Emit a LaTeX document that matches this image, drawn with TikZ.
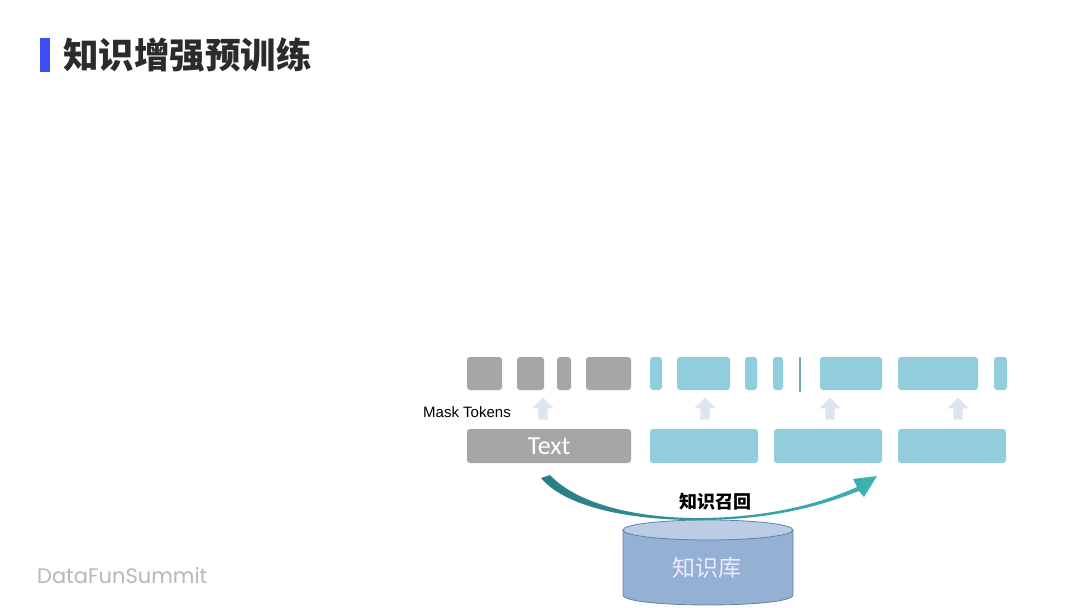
\documentclass[tikz,border=0pt]{standalone}
\usepackage{fontspec}
\setmainfont{Liberation Sans}
\newfontfamily\cjk{Noto Sans CJK SC}
\newfontfamily\carl{Carlito}
\newfontfamily\popp{Poppins}
\usetikzlibrary{shapes.arrows}
\definecolor{tokgray}{HTML}{A6A6A6}
\definecolor{tokblue}{HTML}{93CDDC}
\definecolor{upcol}{HTML}{DFE4F2}
\definecolor{titlecol}{HTML}{2B2B2B}
\definecolor{barblue}{HTML}{3D4EF5}
\definecolor{cylbody}{HTML}{94B0D3}
\definecolor{cyltop}{HTML}{BACDE4}
\definecolor{cyledge}{HTML}{5F80AE}
\definecolor{tealA}{HTML}{2A7C84}
\definecolor{tealB}{HTML}{3DB3B3}
\begin{document}
\begin{tikzpicture}[x=1pt,y=-1pt,
  tok/.style={rounded corners=3pt, inner sep=0pt, minimum height=33pt},
  gtok/.style={tok, fill=tokgray},
  btok/.style={tok, fill=tokblue},
  upar/.style={single arrow, shape border rotate=90, fill=upcol, inner sep=4.5pt,
    minimum width=21pt, minimum height=22pt, single arrow head extend=6pt},
  lab/.style={inner sep=0pt}
]
\useasboundingbox (0,0) rectangle (1080,608);
\fill[white] (0,0) rectangle (1080,608);

% title
\fill[barblue] (40,38) rectangle (50,72);
\node[lab, anchor=west, text=titlecol, font=\cjk\bfseries\fontsize{35.5}{37}\selectfont] (title) at (63,55) {知识增强预训练};

% footer
\node[lab, anchor=west, text=black!28, font=\popp\fontsize{21}{23}\selectfont] (footer) at (37,576) {DataFunSummit};

% top row tokens
\node[gtok, minimum width=35pt] (g1) at (484.5,373.5) {};
\node[gtok, minimum width=27pt] (g2) at (530.5,373.5) {};
\node[gtok, minimum width=14pt] (g3) at (564,373.5) {};
\node[gtok, minimum width=45pt] (g4) at (608.5,373.5) {};
\node[btok, minimum width=12pt] (b1) at (656,373.5) {};
\node[btok, minimum width=53pt] (b2) at (703.5,373.5) {};
\node[btok, minimum width=12pt] (b3) at (751,373.5) {};
\node[btok, minimum width=10pt] (b4) at (778,373.5) {};
\draw[tokblue!80!black, line width=1.5pt] (800,357) -- (800,392);
\node[btok, minimum width=62pt] (b5) at (851,373.5) {};
\node[btok, minimum width=80pt] (b6) at (938,373.5) {};
\node[btok, minimum width=13pt] (b7) at (1000.5,373.5) {};

% bottom row
\node[tok, fill=tokgray, minimum width=164pt, minimum height=34pt, text=white, font=\carl\fontsize{26}{28}\selectfont] (text) at (549,446) {Text};
\node[tok, fill=tokblue, minimum width=108pt, minimum height=34pt] (s1) at (704,446) {};
\node[tok, fill=tokblue, minimum width=108pt, minimum height=34pt] (s2) at (828,446) {};
\node[tok, fill=tokblue, minimum width=108pt, minimum height=34pt] (s3) at (952,446) {};

% up arrows
\node[upar] (u1) at (543,411) {};
\node[upar] (u2) at (705,411) {};
\node[upar] (u3) at (830,411) {};
\node[upar] (u4) at (958,411) {};

\node[lab, font=\fontsize{15}{17}\selectfont] (mask) at (467,412) {Mask Tokens};

% knowledge base cylinder
\filldraw[fill=cylbody, draw=cyledge, line width=0.8pt]
  (623,530) -- (623,595) .. controls (623,608.3) and (793,608.3) .. (793,595) -- (793,530) -- cycle;
\filldraw[fill=cyltop, draw=cyledge, line width=0.8pt] (708,530) ellipse [x radius=85, y radius=10];
\node[lab, text=white!92!blue, font=\cjk\fontsize{23}{25}\selectfont] (kb) at (707,568) {知识库};

% recall arrow
\coordinate (as) at (546,476);
\coordinate (ae) at (877,476);
\shade[left color=tealA, right color=tealB]
  (541,478) .. controls (568,510) and (640,521) .. (705,520)
  .. controls (780,519) and (828,503) .. (859,491)
  -- (864,497) -- (ae) -- (853,479) -- (857,487)
  .. controls (828,500) and (780,516.5) .. (705,518)
  .. controls (640,519) and (578,505) .. (550,475) -- cycle;
\node[lab, font=\cjk\bfseries\fontsize{18}{20}\selectfont] (recall) at (715,502) {知识召回};
\end{tikzpicture}
\end{document}
